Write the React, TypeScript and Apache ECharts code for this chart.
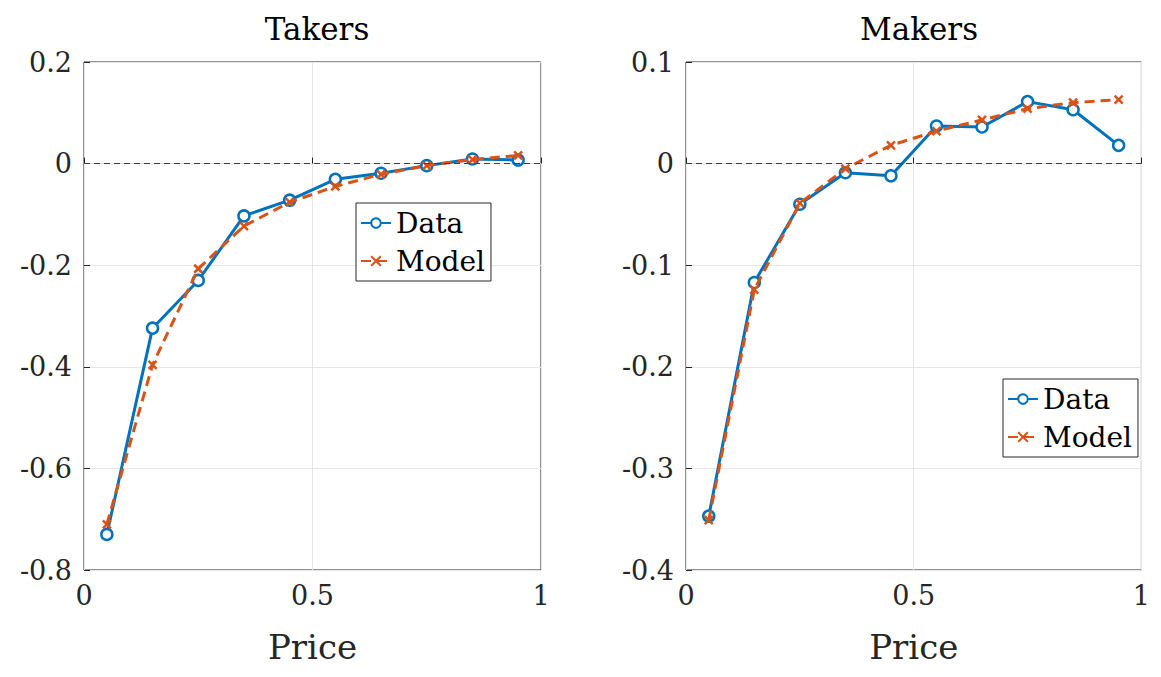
import { useEffect, useRef } from 'react'
import * as echarts from 'echarts'

const prices = [0.05, 0.15, 0.25, 0.35, 0.45, 0.55, 0.65, 0.75, 0.85, 0.95]
const takersData = [-0.73, -0.324, -0.23, -0.103, -0.072, -0.031, -0.019, -0.004, 0.009, 0.007]
const takersModel = [-0.71, -0.396, -0.207, -0.123, -0.076, -0.045, -0.021, -0.004, 0.008, 0.016]
const makersData = [-0.347, -0.117, -0.04, -0.009, -0.012, 0.037, 0.036, 0.061, 0.053, 0.018]
const makersModel = [-0.351, -0.124, -0.039, -0.005, 0.018, 0.032, 0.043, 0.054, 0.06, 0.063]

const BLUE = '#0072BD'
const RED = '#D95319'
const FONT = '"DejaVu Serif", "Liberation Serif", serif'
const CROSS = 'path://M0,0L10,10M10,0L0,10'

const App = () => {
  const ref = useRef<HTMLDivElement>(null)

  useEffect(() => {
    if (!ref.current) return
    const chart = echarts.init(ref.current, undefined, { renderer: 'svg' })

    const zip = (ys: number[]) => prices.map((x, i) => [x, ys[i]])

    const xAxis = (gridIndex: number) => ({
      type: 'value', gridIndex, min: 0, max: 1, interval: 0.5,
      name: 'Price', nameLocation: 'middle', nameGap: 60,
      nameTextStyle: { fontFamily: FONT, fontSize: 34, color: '#262626' },
      axisLine: { show: false },
      axisTick: { inside: true, length: 6, lineStyle: { color: '#262626' } },
      axisLabel: { fontFamily: FONT, fontSize: 27, color: '#262626', margin: 12 },
      splitLine: { lineStyle: { color: '#e6e6e6' } }
    })
    const yAxis = (gridIndex: number, min: number, max: number, interval: number) => ({
      type: 'value', gridIndex, min, max, interval,
      axisLine: { show: false },
      axisTick: { inside: true, length: 6, lineStyle: { color: '#262626' } },
      axisLabel: { fontFamily: FONT, fontSize: 27, color: '#262626', margin: 12 },
      splitLine: { lineStyle: { color: '#e6e6e6' } }
    })
    const zeroLine = {
      silent: true, symbol: 'none', label: { show: false },
      lineStyle: { color: '#404040', type: [6, 4], width: 1 },
      data: [{ yAxis: 0 }]
    }
    const dataSeries = (i: number, ys: number[]) => ({
      name: 'Data', type: 'line', xAxisIndex: i, yAxisIndex: i, data: zip(ys),
      symbol: 'circle', symbolSize: 11, showAllSymbol: true,
      lineStyle: { color: BLUE, width: 3 },
      itemStyle: { color: '#fff', borderColor: BLUE, borderWidth: 2.5 },
      markLine: zeroLine, z: 3
    })
    const modelSeries = (i: number, ys: number[]) => ({
      name: 'Model', type: 'line', xAxisIndex: i, yAxisIndex: i, data: zip(ys),
      symbol: CROSS, symbolSize: 8,
      lineStyle: { color: RED, width: 3, type: [10, 6] },
      itemStyle: { color: 'none', borderColor: RED, borderWidth: 2.5 }, z: 4
    })
    const legend = (left: number, top: number) => ({
      left, top, orient: 'vertical', itemGap: 10, itemWidth: 30, itemHeight: 12,
      backgroundColor: '#fff', borderColor: '#262626', borderWidth: 1, borderRadius: 0,
      padding: [6, 6, 6, 4],
      textStyle: { fontFamily: FONT, fontSize: 28, color: '#000' },
      data: ['Data', 'Model']
    })

    chart.setOption({
      animation: false,
      title: [
        { text: 'Takers', left: 304, top: 0, textAlign: 'center', textStyle: { fontFamily: FONT, fontSize: 31, fontWeight: 'normal', color: '#000' } },
        { text: 'Makers', left: 906, top: 0, textAlign: 'center', textStyle: { fontFamily: FONT, fontSize: 31, fontWeight: 'normal', color: '#000' } }
      ],
      legend: [legend(348, 195), legend(995, 371)],
      grid: [
        { left: 76, right: 612, top: 54, bottom: 94, show: true, borderColor: '#262626', borderWidth: 1, backgroundColor: '#fff' },
        { left: 678, right: 10, top: 54, bottom: 94, show: true, borderColor: '#262626', borderWidth: 1, backgroundColor: '#fff' }
      ],
      xAxis: [xAxis(0), xAxis(1)],
      yAxis: [yAxis(0, -0.8, 0.2, 0.2), yAxis(1, -0.4, 0.1, 0.1)],
      series: [
        dataSeries(0, takersData), modelSeries(0, takersModel),
        dataSeries(1, makersData), modelSeries(1, makersModel)
      ]
    })
    return () => chart.dispose()
  }, [])

  return <div ref={ref} style={{ width: 1145, height: 661 }} />
}

export default App
